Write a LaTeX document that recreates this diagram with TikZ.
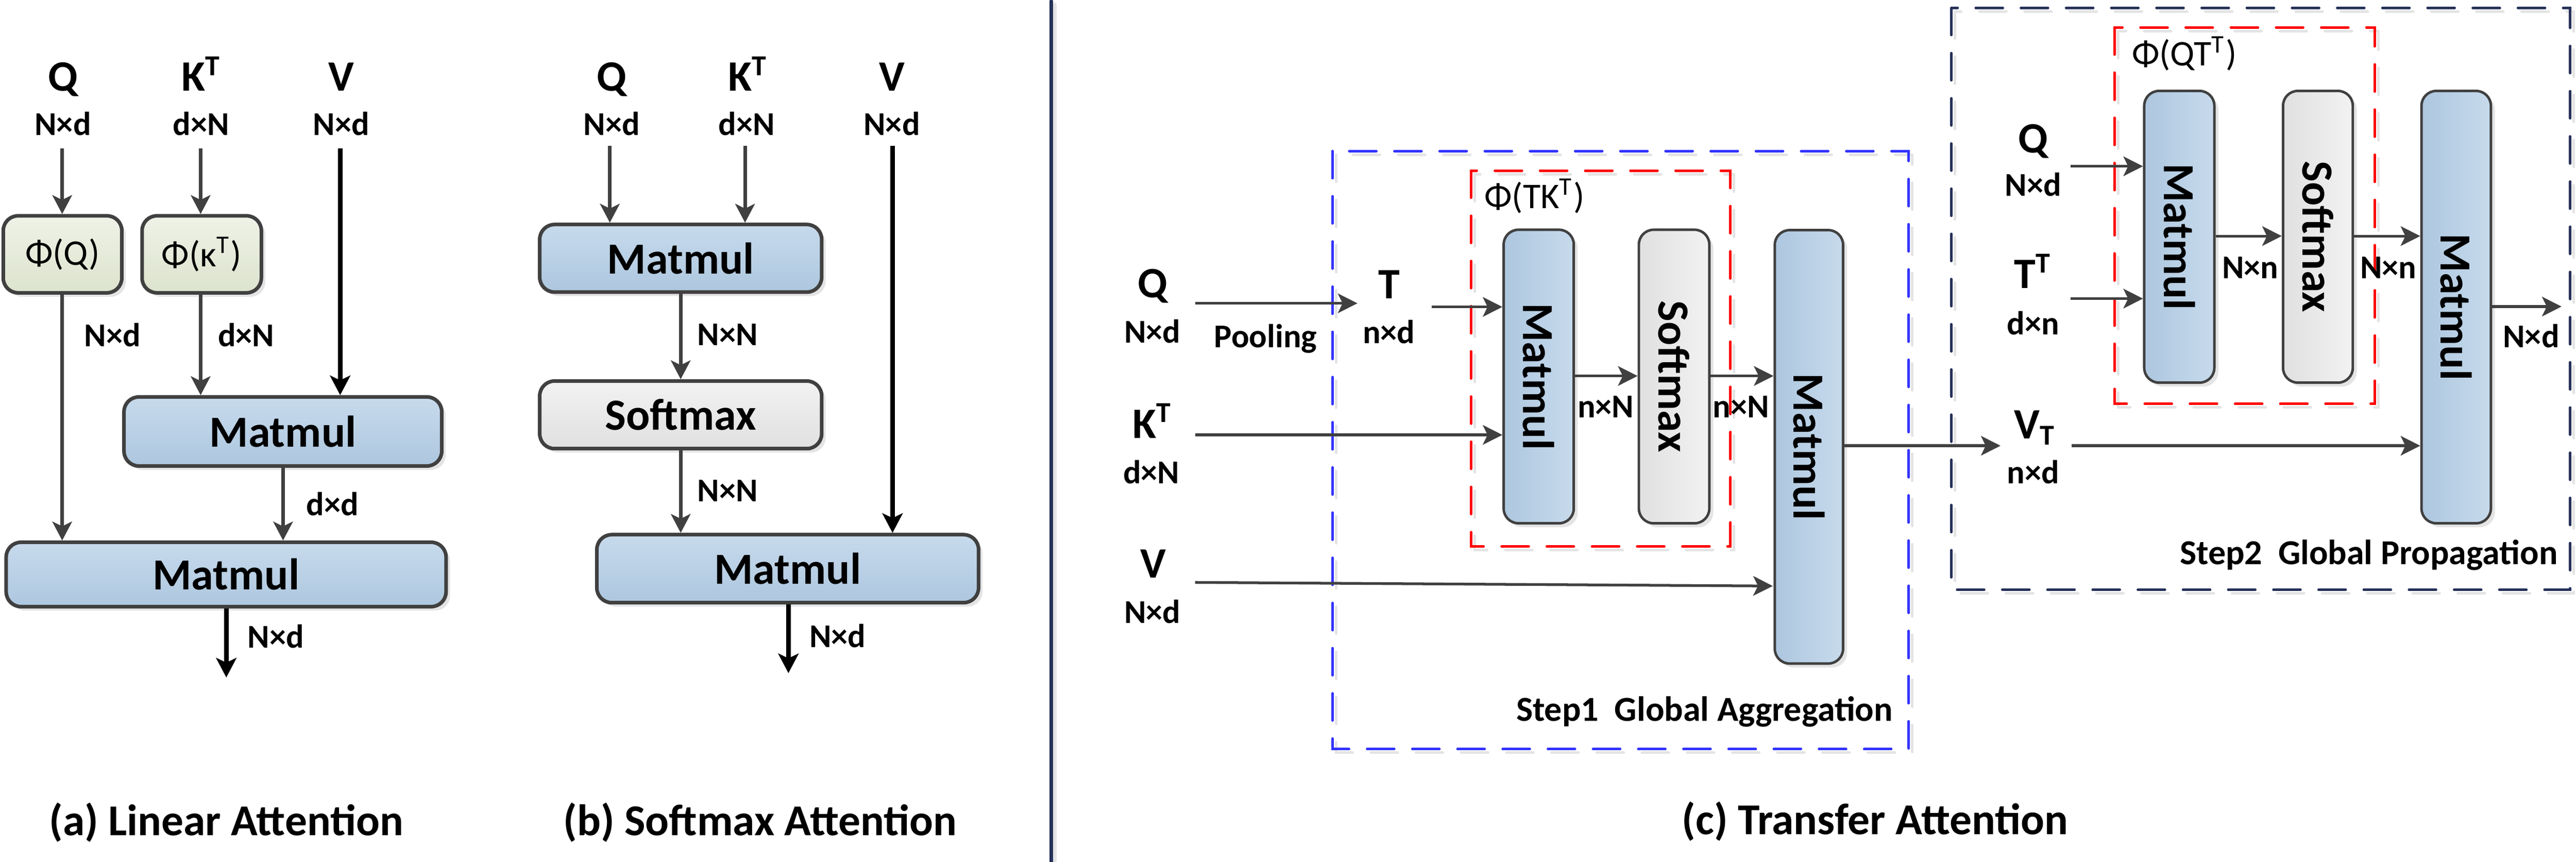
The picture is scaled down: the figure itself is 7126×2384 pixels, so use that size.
\documentclass[tikz,border=0pt]{standalone}
\usepackage{fontspec}
\usepackage{graphicx}
\setmainfont{Carlito}
\usetikzlibrary{arrows.meta,shadows}

\definecolor{edge}{HTML}{404040}
\definecolor{bluetop}{HTML}{C7DAEC}
\definecolor{bluebot}{HTML}{ADC7DF}
\definecolor{greentop}{HTML}{EFF2E7}
\definecolor{greenbot}{HTML}{DCE3CD}
\definecolor{graytop}{HTML}{F2F2F2}
\definecolor{graybot}{HTML}{E0E0E0}
\definecolor{navy}{HTML}{263159}
\definecolor{dblue}{HTML}{3333FF}
\definecolor{shadowgray}{HTML}{E4E4E4}

\newcommand{\mybig}{\bfseries\fontsize{12}{14}\selectfont}
\newcommand{\mysm}{\bfseries\fontsize{9.2}{11}\selectfont}
\newcommand{\mymat}{\bfseries\fontsize{12.3}{14}\selectfont}
\newcommand{\myphi}{\fontsize{10}{12}\selectfont}
\newcommand{\mytitle}{\bfseries\fontsize{12.2}{14}\selectfont}
\newcommand{\mystep}{\bfseries\fontsize{9.7}{12}\selectfont}

\begin{document}
\begin{tikzpicture}[x=0.1pt,y=-0.1pt,
  lbl/.style={inner sep=0pt, anchor=base, font=\mybig},
  dimlbl/.style={inner sep=0pt, anchor=base, font=\mysm},
  boxa/.style={rounded corners=4.1pt, draw=edge, line width=1pt, inner sep=0pt, font=\mymat,
    drop shadow={shadow xshift=1.1pt, shadow yshift=-1.1pt, fill=shadowgray, opacity=1}},
  blueA/.style={boxa, top color=bluetop, bottom color=bluebot},
  greenA/.style={boxa, top color=greentop, bottom color=greenbot, font=\myphi},
  grayA/.style={boxa, top color=graytop, bottom color=graybot},
  boxc/.style={rounded corners=4.1pt, draw=edge, line width=0.7pt, inner sep=0pt, font=\mymat,
    drop shadow={shadow xshift=1.1pt, shadow yshift=-1.1pt, fill=shadowgray, opacity=1}},
  blueC/.style={boxc, left color=bluebot, right color=bluetop},
  grayC/.style={boxc, left color=graybot, right color=graytop},
  arr/.style={draw=edge, line width=1pt, -{Stealth[length=5.2pt,width=5.4pt,inset=1.3pt]}},
  arrk/.style={draw=black, line width=1.3pt, -{Stealth[length=5.4pt,width=5.6pt,inset=1.3pt]}},
  arrc/.style={draw=edge, line width=0.75pt, -{Stealth[length=5.4pt,width=5.4pt,inset=1.3pt]}},
  dbox/.style={line width=0.7pt, line cap=round, dash pattern=on 7.5pt off 5pt},
  sepline/.style={line width=1pt, line cap=round}
]
\useasboundingbox (0,0) rectangle (7126,2384);

% ---------------- Panel (a) ----------------
\node[lbl] (qa) at (174,252) {Q};
\node[dimlbl] (qad) at (174,374) {N×d};
\node[lbl] (ka) at (558,252) {K\textsuperscript{T}};
\node[dimlbl] (kad) at (556,374) {d×N};
\node[lbl] (va) at (944,252) {V};
\node[dimlbl] (vad) at (944,374) {N×d};

\node[greenA, minimum width=32.8pt, minimum height=21.3pt] (phiq) at (173,703.5) {Φ(Q)};
\node[greenA, minimum width=33pt, minimum height=21.3pt] (phik) at (558,703.5) {Φ(κ\textsuperscript{T})};
\node[blueA, minimum width=87.9pt, minimum height=19.1pt] (mma1) at (782.5,1193.5) {Matmul};
\node[blueA, minimum width=121.7pt, minimum height=17.8pt] (mma2) at (625.5,1589) {Matmul};

\coordinate (qas) at (172,411);
\coordinate (kas) at (555,411);
\coordinate (vas) at (941,411);
\coordinate (aout) at (626,1874);

\draw[arr] (qas) -- (qas |- phiq.north);
\draw[arr] (kas) -- (kas |- phik.north);
\draw[arr] (qas |- phiq.south) -- (qas |- mma2.north);
\draw[arr] (kas |- phik.south) -- (kas |- mma1.north);
\draw[arrk] (vas) -- (vas |- mma1.north);
\draw[arr] (783,0 |- mma1.south) -- (783,0 |- mma2.north);
\draw[arrk] (aout |- mma2.south) -- (aout);

\node[dimlbl] (la1) at (311,958) {N×d};
\node[dimlbl] (la2) at (681,958) {d×N};
\node[dimlbl] (la3) at (920,1426) {d×d};
\node[dimlbl] (la4) at (763,1792) {N×d};

\node[inner sep=0pt, anchor=base, font=\mytitle] (ta) at (626,2311) {(a) Linear Attention};

% ---------------- Panel (b) ----------------
\node[lbl] (qb) at (1692,252) {Q};
\node[dimlbl] (qbd) at (1692,374) {N×d};
\node[lbl] (kb) at (2069,252) {K\textsuperscript{T}};
\node[dimlbl] (kbd) at (2066,374) {d×N};
\node[lbl] (vb) at (2467,252) {V};
\node[dimlbl] (vbd) at (2467,374) {N×d};

\node[blueA, minimum width=78pt, minimum height=18.7pt] (mmb1) at (1883,714.5) {Matmul};
\node[grayA, minimum width=78pt, minimum height=18.7pt] (smb) at (1883,1147.5) {Softmax};
\node[blueA, minimum width=105.6pt, minimum height=18.8pt] (mmb2) at (2179,1573) {Matmul};

\coordinate (qbs) at (1687,403);
\coordinate (kbs) at (2061,403);
\coordinate (vbs) at (2469,403);
\coordinate (bout) at (2181,1862);

\draw[arr] (qbs) -- (qbs |- mmb1.north);
\draw[arr] (kbs) -- (kbs |- mmb1.north);
\draw[arr] (mmb1.south) -- (smb.north);
\draw[arr] (smb.south) -- (smb.south |- mmb2.north);
\draw[arrk] (vbs) -- (vbs |- mmb2.north);
\draw[arrk] (bout |- mmb2.south) -- (bout);

\node[dimlbl] (lb1) at (2013,955) {N×N};
\node[dimlbl] (lb2) at (2013,1388) {N×N};
\node[dimlbl] (lb3) at (2317,1791) {N×d};

\node[inner sep=0pt, anchor=base, font=\mytitle] (tb) at (2103,2311) {(b) Softmax Attention};

% ---------------- separator ----------------
\draw[sepline, draw=shadowgray] (2918,12) -- (2918,2394);
\draw[sepline, draw=navy] (2908,3) -- (2908,2384);

% ---------------- Panel (c): dashed frames ----------------
\draw[dbox, draw=shadowgray] (3696,428) rectangle (5290,2082);
\draw[dbox, draw=shadowgray] (4079,482) rectangle (4797,1522);
\draw[dbox, draw=shadowgray] (5408,32) rectangle (7120,1641);
\draw[dbox, draw=shadowgray] (5859,86) rectangle (6579,1127);
\draw[dbox, draw=dblue] (3686,418) rectangle (5280,2072);
\draw[dbox, draw=red] (4069,472) rectangle (4787,1512);
\draw[dbox, draw=navy] (5398,22) rectangle (7110,1631);
\draw[dbox, draw=red] (5849,76) rectangle (6569,1117);

\node[inner sep=0pt, anchor=base west, font=\myphi] (phi1) at (4105,576) {Φ(TK\textsuperscript{T})};
\node[inner sep=0pt, anchor=base west, font=\myphi] (phi2) at (5896,182) {Φ(QT\textsuperscript{T})};

% step 1
\node[lbl] (qc) at (3188,823) {Q};
\node[dimlbl] (qcd) at (3188,948) {N×d};
\node[dimlbl] (pool) at (3501,962) {Pooling};
\node[lbl] (tc) at (3843,826) {T};
\node[dimlbl] (tcd) at (3842,950) {n×d};
\node[lbl] (kc) at (3188,1212) {K\textsuperscript{T}};
\node[dimlbl] (kcd) at (3185,1337) {d×N};
\node[lbl] (vc) at (3190,1599) {V};
\node[dimlbl] (vcd) at (3188,1724) {N×d};

\node[blueC, minimum width=19.4pt, minimum height=81.2pt] (mmc1) at (4256.5,1041.5) {\rotatebox{-90}{Matmul}};
\node[grayC, minimum width=19.5pt, minimum height=81.2pt] (smc1) at (4631,1041.5) {\rotatebox{-90}{Softmax}};
\node[blueC, minimum width=18.9pt, minimum height=119.9pt] (bmc1) at (5004,1236) {\rotatebox{-90}{Matmul}};

\coordinate (qcs) at (3306,839);
\coordinate (qce) at (3755,839);
\coordinate (tcs) at (3960,849);
\coordinate (kcs) at (3306,1203);
\coordinate (vcs) at (3306,1611);
\coordinate (vce) at (4904,1621);
\coordinate (vte) at (5534,1233);

\draw[arrc] (qcs) -- (qce);
\draw[arrc] (tcs) -- (tcs -| mmc1.west);
\draw[arrc] (kcs) -- (kcs -| mmc1.west);
\draw[arrc] (vcs) -- (vce);
\draw[arrc] (4357,1040) -- (4530,1040);
\draw[arrc] (4732,1040) -- (4906,1040);
\draw[arrc] (vte -| bmc1.east) -- (vte);

\node[dimlbl] (lc1) at (4442,1155) {n×N};
\node[dimlbl] (lc2) at (4816,1155) {n×N};
\node[inner sep=0pt, anchor=base east, font=\mystep] (st1) at (5238,1994) {Step1\ \ Global Aggregation};

% step 2
\node[lbl] (qc2) at (5624,422) {Q};
\node[dimlbl] (qc2d) at (5624,543) {N×d};
\node[lbl] (tt2) at (5624,798) {T\textsuperscript{T}};
\node[dimlbl] (tt2d) at (5624,926) {d×n};
\node[lbl] (vt2) at (5630,1213) {V\textsubscript{T}};
\node[dimlbl] (vt2d) at (5624,1338) {n×d};

\node[blueC, minimum width=19.4pt, minimum height=80.7pt] (mmc2) at (6028.5,655) {\rotatebox{-90}{Matmul}};
\node[grayC, minimum width=19.3pt, minimum height=80.7pt] (smc2) at (6412,655) {\rotatebox{-90}{Softmax}};
\node[blueC, minimum width=19.2pt, minimum height=119.6pt] (bmc2) at (6794.5,849.5) {\rotatebox{-90}{Matmul}};

\coordinate (q2s) at (5728,460);
\coordinate (t2s) at (5728,826);
\coordinate (v2s) at (5730,1233);
\coordinate (o2e) at (7086,848);

\draw[arrc] (q2s) -- (q2s -| mmc2.west);
\draw[arrc] (t2s) -- (t2s -| mmc2.west);
\draw[arrc] (6129,653) -- (6312,653);
\draw[arrc] (6512,653) -- (6695,653);
\draw[arrc] (v2s) -- (v2s -| bmc2.west);
\draw[arrc] (o2e -| bmc2.east) -- (o2e);

\node[dimlbl] (lc3) at (6225,770) {N×n};
\node[dimlbl] (lc4) at (6607,770) {N×n};
\node[dimlbl] (lc5) at (7002,962) {N×d};
\node[inner sep=0pt, anchor=base east, font=\mystep] (st2) at (7077,1562) {Step2\ \ Global Propagation};

\node[inner sep=0pt, anchor=base, font=\mytitle] (tc3) at (5187,2308) {(c) Transfer Attention};
\end{tikzpicture}
\end{document}
